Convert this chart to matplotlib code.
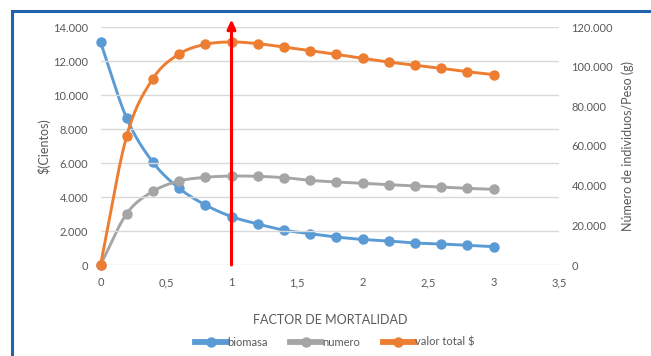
import matplotlib.pyplot as plt
import numpy as np
from matplotlib.patches import Rectangle
from matplotlib.lines import Line2D

plt.rcParams['font.family'] = ['Lato', 'DejaVu Sans']

factor = [0, 0.2, 0.4, 0.6, 0.8, 1.0, 1.2, 1.4, 1.6, 1.8, 2.0, 2.2, 2.4, 2.6, 2.8, 3.0]
biomasa = [112400, 74000, 51800, 38700, 30300, 24400, 20700, 17600, 15800, 14100,
           12900, 12100, 11100, 10600, 9900, 9250]
numero = [0, 25900, 37100, 42350, 44200, 44850, 44700, 44050, 42700, 41850,
          41200, 40500, 39850, 39300, 38650, 38150]
valor_total = [0, 7590, 10960, 12410, 12980, 13120, 13020, 12820, 12610, 12390,
               12160, 11940, 11750, 11570, 11370, 11200]

x_ticks = [0, 0.5, 1, 1.5, 2, 2.5, 3, 3.5]
x_labels = ["0", "0,5", "1", "1,5", "2", "2,5", "3", "3,5"]
left_ticks = list(range(0, 14001, 2000))
right_ticks = list(range(0, 120001, 20000))

BLUE = "#5B9BD5"
GRAY = "#A5A5A5"
ORANGE = "#ED7D31"
TXT = "#595959"


def fmt(v):
    return f"{v:,}".replace(",", ".")


def smooth(x, y, n=20):
    # catmull-rom curve through the points, like excel's smoothed line
    x = np.asarray(x, float)
    y = np.asarray(y, float)
    px = np.concatenate([[2 * x[0] - x[1]], x, [2 * x[-1] - x[-2]]])
    py = np.concatenate([[2 * y[0] - y[1]], y, [2 * y[-1] - y[-2]]])
    xs, ys = [], []
    t = np.linspace(0, 1, n, endpoint=False)
    for i in range(1, len(px) - 2):
        for p, out in ((px, xs), (py, ys)):
            p0, p1, p2, p3 = p[i - 1], p[i], p[i + 1], p[i + 2]
            out.extend(0.5 * (2 * p1 + (-p0 + p2) * t
                              + (2 * p0 - 5 * p1 + 4 * p2 - p3) * t ** 2
                              + (-p0 + 3 * p1 - 3 * p2 + p3) * t ** 3))
    xs.append(x[-1])
    ys.append(y[-1])
    return np.array(xs), np.array(ys)


fig = plt.figure(figsize=(6.51, 3.56), dpi=100)
ax = fig.add_axes([100.5 / 651, 1 - 265 / 356, (559 - 100.5) / 651, 238 / 356])
ax2 = ax.twinx()
ax.set_zorder(ax2.get_zorder() + 1)
ax.patch.set_visible(False)

lw, ms = 2.1, 6.5
for a, ys, c in ((ax2, biomasa, BLUE), (ax2, numero, GRAY), (ax, valor_total, ORANGE)):
    sx, sy = smooth(factor, ys)
    a.plot(sx, sy, color=c, lw=lw, solid_capstyle="round", clip_on=False)
    a.plot(factor, ys, "o", color=c, ms=ms, mec=c, clip_on=False)

ax.set_xlim(0, 3.5)
ax.set_ylim(0, 14000)
ax2.set_ylim(0, 120000)
ax.set_xticks(x_ticks, x_labels)
ax.set_yticks(left_ticks, [fmt(v) for v in left_ticks])
ax2.set_yticks(right_ticks, [fmt(v) for v in right_ticks])

ax.grid(axis="y", color="#D9D9D9", lw=1)
ax.set_axisbelow(True)
for a in (ax, ax2):
    for s in a.spines.values():
        s.set_visible(False)
    a.tick_params(length=0, labelsize=8, labelcolor=TXT)
ax.tick_params(axis="x", pad=9)
ax.tick_params(axis="y", pad=9)
ax2.tick_params(axis="y", pad=9)

ax.set_xlabel("FACTOR DE MORTALIDAD", fontsize=9, color=TXT, labelpad=18)
ax.set_ylabel("$(Cientos)", fontsize=9, color=TXT, labelpad=2)
ax2.set_ylabel("Número de individuos/Peso (g)", fontsize=9, color=TXT, labelpad=6)

# red arrow marking factor 1
ax.annotate("", xy=(1, 14450), xytext=(1, 0),
            arrowprops=dict(arrowstyle="-|>,head_length=0.55,head_width=0.25",
                            color="#FF0000", lw=2.2, shrinkA=0, shrinkB=0),
            annotation_clip=False, zorder=10)

handles = [Line2D([], [], color=c, lw=lw * 2, marker="o", ms=ms)
           for c in (BLUE, GRAY, ORANGE)]
fig.legend(handles, ["biomasa", "numero", "valor total $"], loc="center",
           bbox_to_anchor=(335 / 651, 1 - 342 / 356), ncol=3, frameon=False,
           fontsize=8, labelcolor=TXT, handlelength=2.8, handletextpad=0.1,
           columnspacing=2.0)

fig.patches.append(Rectangle((12 / 651, -0.1), 1.2, 0.1 + 1 - 11 / 356,
                             transform=fig.transFigure, fill=False,
                             edgecolor="#1F64AD", lw=2.2))

fig.savefig("out.png", dpi=100)
